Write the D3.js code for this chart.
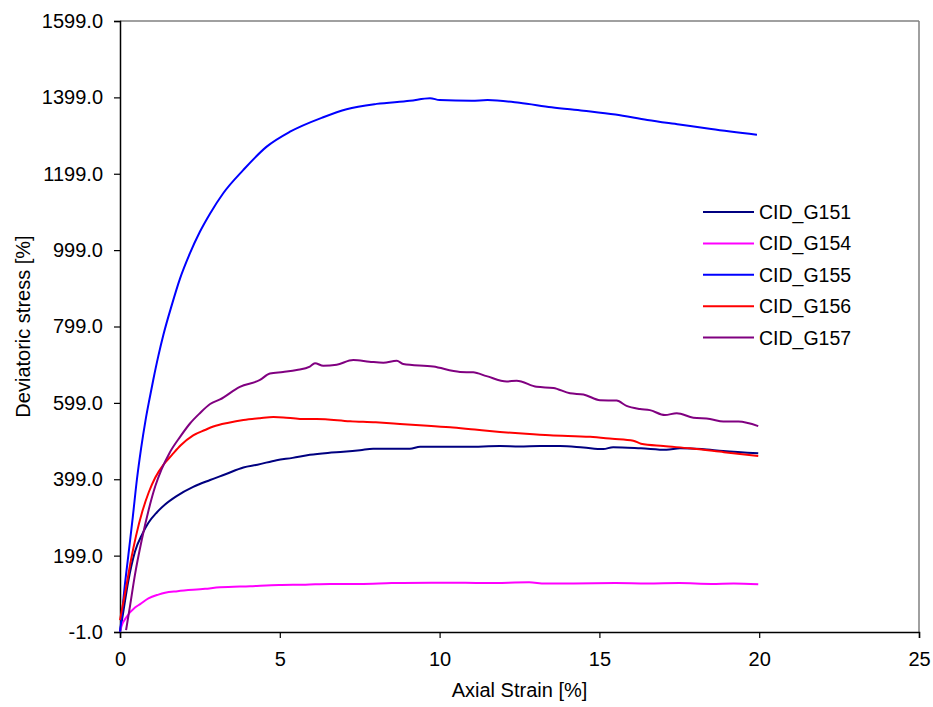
<!DOCTYPE html>
<html>
<head>
<meta charset="utf-8">
<script src="https://cdn.jsdelivr.net/npm/d3@7"></script>
<style>
  body { margin: 0; background: #fff; }
  svg { display: block; font-family: "Liberation Sans", Arial, sans-serif; }
</style>
</head>
<body>
<svg id="chart" width="933" height="707"></svg>
<script>
// Axial strain [%] vs deviatoric stress for five CID triaxial tests
const seriesNames = ["CID_G151", "CID_G154", "CID_G155", "CID_G156", "CID_G157"];
const seriesColors = ["#000080", "#FF00FF", "#0000FF", "#FF0000", "#800080"];

const g151 = [[0,0],[0.1,50],[0.25,128],[0.47,210],[0.7,256],[0.89,285],[1.15,312],[1.41,333],[1.77,355],[2.29,379],[2.82,397],[3.3,412],[3.86,430],[4.3,437],[4.9,449],[5.4,455],[5.94,463],[6.5,468],[6.99,471],[7.51,475],[7.92,479],[8.5,479],[9.07,479],[9.39,484],[10.0,484],[10.85,484],[11.89,486],[12.5,485],[13.14,486],[13.77,486],[14.5,482],[15.12,478],[15.43,483],[16.3,480],[17.1,476],[17.52,480],[18.2,478],[18.87,473],[19.97,467]];
const g154 = [[0,0],[0.05,15],[0.21,39],[0.47,63],[0.63,72],[0.89,87],[1.2,97],[1.41,102],[1.8,106],[2.66,112],[3.13,116],[4.07,119],[4.98,122],[5.8,123],[6.57,125],[7.5,125],[8.5,127],[9.75,128],[10.8,128],[11.5,127],[12.8,129],[13.3,126],[14.2,126],[15.5,127],[16.5,126],[17.5,127],[18.5,125],[19.2,126],[19.97,124]];
const g155 = [[0,0],[0.05,35],[0.13,105],[0.26,199],[0.4,300],[0.53,399],[0.66,480],[0.8,554],[0.92,608],[1.04,659],[1.2,722],[1.36,778],[1.62,855],[1.88,925],[2.19,991],[2.5,1047],[2.82,1095],[3.23,1148],[3.86,1209],[4.59,1270],[5.32,1309],[6.36,1347],[7.09,1368],[8.03,1382],[9.07,1390],[9.7,1397],[10.0,1392],[11.0,1390],[11.5,1392],[12.5,1385],[13.5,1373],[14.5,1364],[15.5,1354],[16.5,1340],[17.5,1328],[18.5,1316],[19.93,1301]];
const g156 = [[0,30],[0.1,75],[0.2,120],[0.35,190],[0.5,250],[0.7,315],[0.9,365],[1.1,403],[1.35,436],[1.62,462],[1.9,488],[2.29,514],[2.66,528],[2.92,537],[3.4,547],[3.86,554],[4.38,559],[4.8,562],[5.11,561],[5.63,557],[6.15,557],[7.2,551],[8.0,548],[8.76,544],[9.5,540],[10.33,535],[11.1,529],[11.89,523],[12.7,518],[13.45,514],[14.71,510],[15.4,505],[16.06,500],[16.3,492],[17.0,486],[17.83,480],[18.9,470],[19.97,460]];
const g157 = [[0.19,4],[0.3,60],[0.47,150],[0.68,240],[0.9,320],[1.1,380],[1.3,425],[1.55,468],[1.88,510],[2.19,545],[2.5,572],[2.82,596],[3.13,608],[3.75,641],[4.38,659],[4.69,676],[5.1,680],[5.53,685],[5.94,694],[6.1,703],[6.36,696],[6.78,699],[7.3,711],[7.8,707],[8.24,704],[8.66,709],[8.86,701],[9.8,694],[10.64,680],[11.05,679],[11.47,669],[12.1,655],[12.41,657],[13.04,641],[13.56,638],[14.08,624],[14.5,621],[15.02,606],[15.54,605],[15.85,591],[16.27,583],[16.58,580],[17.05,567],[17.42,572],[17.94,560],[18.46,557],[18.88,550],[19.35,550],[19.97,538]];
const seriesData = [g151, g154, g155, g156, g157];

const xTicks = [0, 5, 10, 15, 20, 25];
const yTicks = [-1, 199, 399, 599, 799, 999, 1199, 1399, 1599];

const svg = d3.select("#chart");
const plot = { left: 120, right: 919, top: 21, bottom: 632 };
const fontFamily = "'Liberation Sans', Arial, sans-serif";

const x = d3.scaleLinear().domain([0, 25]).range([plot.left, plot.right]);
const y = d3.scaleLinear().domain([-1, 1599]).range([plot.bottom, plot.top]);

// frame: top and right in grey
svg.append("line").attr("x1", plot.left).attr("x2", plot.right)
  .attr("y1", plot.top).attr("y2", plot.top)
  .attr("stroke", "#808080").attr("stroke-width", 1.5);
svg.append("line").attr("x1", plot.right).attr("x2", plot.right)
  .attr("y1", plot.top).attr("y2", plot.bottom)
  .attr("stroke", "#808080").attr("stroke-width", 1.5);

// axes
const fmtY = d => d.toFixed(1);
const xAxis = svg.append("g").attr("transform", `translate(0,${plot.bottom})`)
  .call(d3.axisBottom(x).tickValues(xTicks).tickFormat(d => String(d)).tickSizeOuter(0).tickSize(6).tickPadding(14));
const yAxis = svg.append("g").attr("transform", `translate(${plot.left},0)`)
  .call(d3.axisLeft(y).tickValues(yTicks).tickFormat(fmtY).tickSizeOuter(0).tickSize(6).tickPadding(11));

[xAxis, yAxis].forEach(a => {
  a.select(".domain").attr("stroke", "#000").attr("stroke-width", 1.5);
  a.selectAll(".tick line").attr("stroke", "#000").attr("stroke-width", 1.2);
  a.selectAll(".tick text").attr("fill", "#000").style("font-size", "20px")
    .style("font-family", fontFamily);
});

// series lines
const line = d3.line().x(d => x(d[0])).y(d => y(d[1])).curve(d3.curveMonotoneX);
seriesData.forEach((data, i) => {
  svg.append("path").datum(data)
    .attr("fill", "none")
    .attr("stroke", seriesColors[i])
    .attr("stroke-width", 2)
    .attr("stroke-linejoin", "round")
    .attr("d", line);
});

// legend
const legend = svg.append("g").attr("transform", "translate(703,212)");
seriesNames.forEach((name, i) => {
  const row = legend.append("g").attr("transform", `translate(0,${i * 31.4})`);
  row.append("line").attr("x1", 0).attr("x2", 51).attr("y1", 0).attr("y2", 0)
    .attr("stroke", seriesColors[i]).attr("stroke-width", 2);
  row.append("text").attr("x", 56).attr("y", 0).attr("dy", "0.36em")
    .style("font-size", "19.5px").attr("fill", "#000").text(name);
});

// axis titles
svg.append("text").attr("x", (plot.left + plot.right) / 2).attr("y", 697)
  .attr("text-anchor", "middle").style("font-size", "20px").text("Axial Strain [%]");
svg.append("text").attr("transform", `translate(30,${(plot.top + plot.bottom) / 2}) rotate(-90)`)
  .attr("text-anchor", "middle").style("font-size", "20px").text("Deviatoric stress [%]");
</script>
</body>
</html>
